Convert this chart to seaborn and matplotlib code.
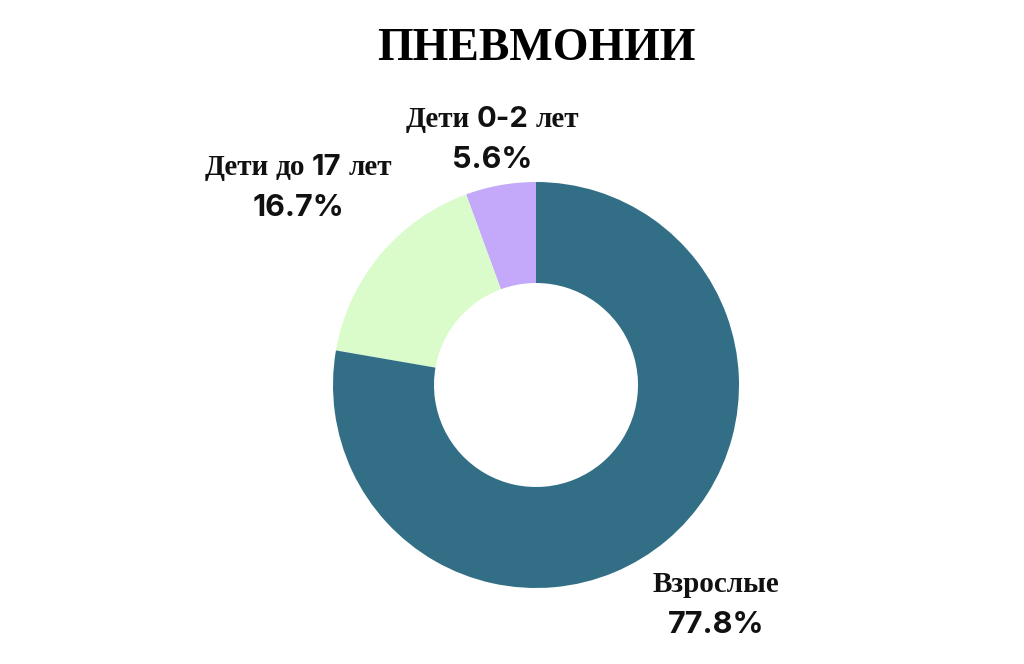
import matplotlib
matplotlib.use("Agg")
import matplotlib.pyplot as plt
import seaborn as sns
from matplotlib.offsetbox import TextArea, HPacker, VPacker, AnnotationBbox

title = "ПНЕВМОНИИ"
categories = ["Дети 0-2 лет", "Дети до 17 лет", "Взрослые"]
label_parts = [
    [("Дети", "serif"), ("0-2", "sans"), ("лет", "serif")],
    [("Дети", "serif"), ("до", "serif"), ("17", "sans"), ("лет", "serif")],
    [("Взрослые", "serif")],
]
values = [5.6, 16.7, 77.8]
pct_labels = ["5.6%", "16.7%", "77.8%"]
colors = ["#C4A8F9", "#DAFBCA", "#326F86"]
label_pos = [(492, 524), (298, 476), (716, 59)]

sns.set_theme(style="white")
plt.rcParams["font.family"] = ["Liberation Serif", "DejaVu Serif"]

SERIF = "Liberation Serif"
SANS = "Inter"

fig = plt.figure(figsize=(10.24, 6.64), dpi=100)
ax = fig.add_axes([0, 0, 1, 1])

ax.pie(values, colors=sns.color_palette(colors), startangle=90, counterclock=True,
       center=(536, 279), radius=203, wedgeprops=dict(width=101, linewidth=0))
ax.set_xlim(0, 1024)
ax.set_ylim(0, 664)
ax.set_aspect("equal")
ax.axis("off")

fig.text(536 / 1024, 1 - 49 / 664, title, ha="center", va="center",
         fontsize=33, fontweight="bold", family=SERIF, color="black")

for parts, pct, (x, y) in zip(label_parts, pct_labels, label_pos):
    pieces = []
    for txt, kind in parts:
        fam = SERIF if kind == "serif" else SANS
        pieces.append(TextArea(txt, textprops=dict(fontsize=21, fontweight="bold",
                                                   family=fam, color="#111111")))
    line1 = HPacker(children=pieces, align="baseline", pad=0, sep=5)
    line2 = TextArea(pct, textprops=dict(fontsize=22, fontweight="bold",
                                         family=SANS, color="#111111"))
    box = VPacker(children=[line1, line2], align="center", pad=0, sep=10)
    ab = AnnotationBbox(box, (x, y), xycoords="data", frameon=False,
                        box_alignment=(0.5, 0.5))
    ax.add_artist(ab)

fig.savefig("out.png", dpi=100, facecolor="white")
